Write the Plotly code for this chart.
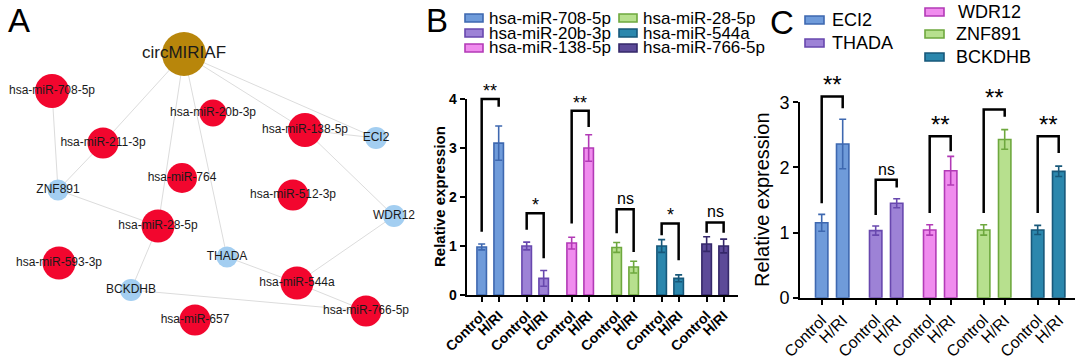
import plotly.graph_objects as go

W, H = 1080, 360
FONT = "Liberation Sans, Arial, sans-serif"

# ---------------- Panel A : network ----------------
node_names = ["circMIRIAF", "hsa-miR-708-5p", "hsa-miR-211-3p", "hsa-miR-20b-3p", "hsa-miR-138-5p",
              "ECI2", "hsa-miR-764", "ZNF891", "hsa-miR-512-3p", "WDR12", "hsa-miR-28-5p",
              "hsa-miR-593-3p", "THADA", "hsa-miR-544a", "BCKDHB", "hsa-miR-766-5p", "hsa-miR-657"]
node_x = [184, 52, 103, 213, 305, 376, 182, 58, 293, 394, 158, 59, 227, 297, 131, 366, 195]
node_y = [54, 91, 143, 113, 130, 138, 178, 190, 195, 216, 226, 263, 257, 283, 290, 311, 320]
node_kind = ["circ", "mir", "mir", "mir", "mir", "gene", "mir", "gene", "mir", "gene", "mir",
             "mir", "gene", "mir", "gene", "mir", "mir"]
node_size = [44, 34, 31, 27, 34, 22, 30, 21, 31, 22, 33, 33, 21, 33, 22, 31, 31]
edges = [("circMIRIAF", "hsa-miR-211-3p"), ("circMIRIAF", "hsa-miR-28-5p"),
         ("circMIRIAF", "THADA"), ("circMIRIAF", "hsa-miR-138-5p"), ("circMIRIAF", "ECI2"),
         ("hsa-miR-138-5p", "WDR12"), ("hsa-miR-708-5p", "ZNF891"), ("ZNF891", "hsa-miR-28-5p"),
         ("hsa-miR-211-3p", "ZNF891"), ("hsa-miR-28-5p", "BCKDHB"), ("THADA", "hsa-miR-544a"),
         ("hsa-miR-544a", "WDR12"), ("hsa-miR-544a", "hsa-miR-766-5p"),
         ("BCKDHB", "hsa-miR-766-5p"), ("hsa-miR-138-5p", "ECI2")]
kind_color = {"circ": "#B8860B", "mir": "#F2062E", "gene": "#A3CEF1"}

# ---------------- Panel B ----------------
conditions = ["Control", "H/RI"]
b_series = ["hsa-miR-708-5p", "hsa-miR-20b-3p", "hsa-miR-138-5p",
            "hsa-miR-28-5p", "hsa-miR-544a", "hsa-miR-766-5p"]
b_control = [0.98, 1.00, 1.06, 0.97, 1.00, 1.04]
b_control_err = [0.06, 0.08, 0.12, 0.10, 0.13, 0.15]
b_hri = [3.10, 0.34, 3.00, 0.57, 0.34, 1.00]
b_hri_err = [0.35, 0.16, 0.27, 0.12, 0.07, 0.14]
b_sig = ["**", "*", "**", "ns", "*", "ns"]
b_brk_top = [4.00, 1.67, 3.76, 1.75, 1.46, 1.48]
b_brk_left = [1.29, 1.33, 1.46, 1.26, 1.22, 1.27]
b_brk_right = [3.84, 0.75, 3.43, 0.88, 0.71, 1.27]
b_fill = ["#6F9BDA", "#9D82D6", "#F08CEE", "#B7E08E", "#2B87AD", "#5C4A98"]
b_line = ["#3E68B0", "#6848AE", "#B23AB6", "#6EA83E", "#17587A", "#35286A"]

# ---------------- Panel C ----------------
c_series = ["ECI2", "THADA", "WDR12", "ZNF891", "BCKDHB"]
c_control = [1.15, 1.03, 1.04, 1.04, 1.04]
c_control_err = [0.13, 0.07, 0.08, 0.08, 0.07]
c_hri = [2.36, 1.45, 1.95, 2.43, 1.94]
c_hri_err = [0.38, 0.07, 0.22, 0.15, 0.08]
c_sig = ["**", "ns", "**", "**", "**"]
c_brk_top = [3.09, 1.81, 2.48, 2.89, 2.48]
c_brk_left = [1.45, 1.27, 1.30, 1.30, 1.30]
c_brk_right = [2.91, 1.69, 2.25, 2.78, 2.22]
c_fill = ["#6F9BDA", "#9D82D6", "#F08CEE", "#B7E08E", "#2B87AD"]
c_line = ["#3E68B0", "#6848AE", "#B23AB6", "#6EA83E", "#17587A"]

B_PITCH, C_PITCH = 2.647, 2.571
B_YMAX, C_YMAX = 4, 3


def px(x):
    return x / W


def py(y):
    return 1 - y / H


fig = go.Figure()
shapes = []
annotations = []

# ---- network
idx = {n: i for i, n in enumerate(node_names)}
ex, ey = [], []
for a, b in edges:
    ex += [node_x[idx[a]], node_x[idx[b]], None]
    ey += [node_y[idx[a]], node_y[idx[b]], None]
fig.add_trace(go.Scatter(x=ex, y=ey, mode="lines", line=dict(color="#DCDCDC", width=1),
                         hoverinfo="skip", showlegend=False, xaxis="x3", yaxis="y3"))
fig.add_trace(go.Scatter(
    x=node_x, y=node_y, mode="markers+text", text=node_names, textposition="middle center",
    textfont=dict(family=FONT, size=[17 if k == "circ" else 12 for k in node_kind], color="#1a1a1a"),
    marker=dict(size=node_size, color=[kind_color[k] for k in node_kind], opacity=1,
                line=dict(width=0)),
    showlegend=False, xaxis="x3", yaxis="y3", cliponaxis=False))


def add_panel(series, ctrl, ctrl_err, hri, hri_err, fills, lines, pitch, xa, ya, width,
              sig, top, left, right, ymax, star_size, ns_size, lw):
    for g, name in enumerate(series):
        xs = [g * pitch, g * pitch + 1]
        fig.add_trace(go.Bar(
            x=xs, y=[ctrl[g], hri[g]], width=width, name=name,
            marker=dict(color=fills[g], line=dict(color=lines[g], width=1.6)),
            error_y=dict(type="data", array=[ctrl_err[g], hri_err[g]], color=lines[g],
                         thickness=1.6, width=3.5),
            showlegend=False, xaxis=xa, yaxis=ya))
        shapes.append(dict(
            type="path", xref=xa, yref=ya + " domain",
            path=f"M {xs[0]},{left[g] / ymax} L {xs[0]},{top[g] / ymax} "
                 f"L {xs[1]},{top[g] / ymax} L {xs[1]},{right[g] / ymax}",
            line=dict(color="black", width=lw)))
        is_ns = sig[g] == "ns"
        annotations.append(dict(
            x=(xs[0] + xs[1]) / 2, y=top[g] / ymax, xref=xa, yref=ya + " domain",
            text=sig[g], showarrow=False, yanchor="bottom",
            yshift=0 if is_ns else -4,
            font=dict(family=FONT, size=ns_size if is_ns else star_size, color="black")))


add_panel(b_series, b_control, b_control_err, b_hri, b_hri_err, b_fill, b_line, B_PITCH,
          "x", "y", 0.56, b_sig, b_brk_top, b_brk_left, b_brk_right, B_YMAX, 18, 16, 2.5)
add_panel(c_series, c_control, c_control_err, c_hri, c_hri_err, c_fill, c_line, C_PITCH,
          "x2", "y2", 0.59, c_sig, c_brk_top, c_brk_left, c_brk_right, C_YMAX, 24, 16, 2.5)

b_ticks = [g * B_PITCH + i for g in range(len(b_series)) for i in range(2)]
c_ticks = [g * C_PITCH + i for g in range(len(c_series)) for i in range(2)]
b_text = [conditions[i] for g in range(len(b_series)) for i in range(2)]
c_text = [conditions[i] for g in range(len(c_series)) for i in range(2)]

# ---- legends (manual)
b_leg_pos = [(465, 18), (465, 33), (465, 48), (619, 18), (619, 33), (619, 48)]
for i, name in enumerate(b_series):
    x0, yc = b_leg_pos[i]
    shapes.append(dict(type="rect", xref="paper", yref="paper", x0=px(x0), x1=px(x0 + 18),
                       y0=py(yc + 4), y1=py(yc - 4), fillcolor=b_fill[i],
                       line=dict(color=b_line[i], width=1.6)))
    annotations.append(dict(x=px(x0 + 22), y=py(yc), xref="paper", yref="paper", text=name,
                            showarrow=False, xanchor="left", yanchor="middle",
                            font=dict(family=FONT, size=17, color="black")))
c_leg_pos = [(805, 20), (805, 43), (925, 12), (925, 34), (925, 57)]
c_txt_x = [830, 830, 956, 954, 954]
for i, name in enumerate(c_series):
    x0, yc = c_leg_pos[i]
    shapes.append(dict(type="rect", xref="paper", yref="paper", x0=px(x0), x1=px(x0 + 19),
                       y0=py(yc + 4), y1=py(yc - 4), fillcolor=c_fill[i],
                       line=dict(color=c_line[i], width=1.6)))
    annotations.append(dict(x=px(c_txt_x[i]), y=py(yc), xref="paper", yref="paper", text=name,
                            showarrow=False, xanchor="left", yanchor="middle",
                            font=dict(family=FONT, size=18, color="black")))

# ---- panel letters and axis titles
for letter, lx, ly in [("A", 6, 20), ("B", 424, 20), ("C", 768, 22)]:
    annotations.append(dict(x=px(lx), y=py(ly), xref="paper", yref="paper", text=letter,
                            showarrow=False, xanchor="left", yanchor="middle",
                            font=dict(family=FONT, size=33, color="black")))
annotations.append(dict(x=px(439), y=py(197), xref="paper", yref="paper",
                        text="<b>Relative expression</b>", textangle=-90, showarrow=False,
                        font=dict(family=FONT, size=15, color="black")))
annotations.append(dict(x=px(775), y=py(200), xref="paper", yref="paper",
                        text="Relative expression", textangle=-90, showarrow=False,
                        font=dict(family=FONT, size=20, color="black")))

axis_common = dict(showgrid=False, zeroline=False, showline=True, linecolor="black",
                   linewidth=2, ticks="outside", ticklen=5, tickwidth=2, tickcolor="black",
                   automargin=False)

fig.update_layout(
    template="none",
    width=W, height=H, margin=dict(l=0, r=0, t=0, b=0, pad=0), autosize=False,
    paper_bgcolor="white", plot_bgcolor="white", barmode="overlay", showlegend=False,
    font=dict(family=FONT, color="black"),
    xaxis=dict(domain=[px(466.7), px(738)], range=[-0.882, 15.08], anchor="y",
               tickvals=b_ticks, ticktext=b_text, tickangle=-45,
               tickfont=dict(family=FONT, size=14, weight="bold"), **axis_common),
    yaxis=dict(domain=[py(295), py(99)], range=[0, B_YMAX], anchor="x",
               tickvals=[0, 1, 2, 3, 4], tickfont=dict(family=FONT, size=14, weight="bold"),
               **axis_common),
    xaxis2=dict(domain=[px(800), px(1075)], range=[-1.033, 12.06], anchor="y2",
                tickvals=c_ticks, ticktext=c_text, tickangle=-45,
                tickfont=dict(family=FONT, size=16), **axis_common),
    yaxis2=dict(domain=[py(297.7), py(102.3)], range=[0, C_YMAX], anchor="x2",
                tickvals=[0, 1, 2, 3], tickfont=dict(family=FONT, size=18), **axis_common),
    xaxis3=dict(domain=[0, px(420)], range=[0, 420], visible=False, anchor="y3",
                automargin=False),
    yaxis3=dict(domain=[0, 1], range=[360, 0], visible=False, anchor="x3", automargin=False),
    shapes=shapes, annotations=annotations,
)

fig.write_html("out.html", config={"displayModeBar": False},
               post_script="document.body.style.margin='0';document.body.style.padding='0';")
